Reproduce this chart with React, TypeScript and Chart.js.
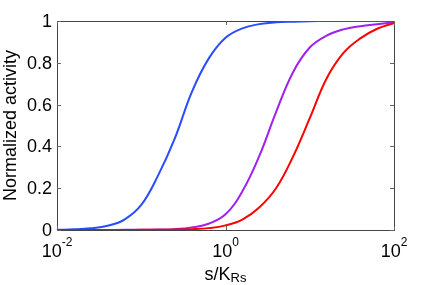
import React, { useEffect, useRef } from "react";
import { Chart, registerables } from "chart.js";

Chart.register(...registerables);

const xValues = [0.01, 0.0158, 0.0251, 0.0398, 0.0631, 0.1, 0.158, 0.251, 0.398, 0.631, 1, 1.585, 2.512, 3.981, 6.31, 10, 15.85, 25.12, 39.81, 63.1, 100];

const blueValues = [0.001, 0.003, 0.008, 0.02, 0.05, 0.12, 0.26, 0.44, 0.66, 0.82, 0.92, 0.965, 0.985, 0.994, 0.997, 0.999, 1, 1, 1, 1, 1];
const purpleValues = [0, 0, 0, 0.0003, 0.0006, 0.001, 0.002, 0.004, 0.012, 0.03, 0.075, 0.185, 0.353, 0.564, 0.754, 0.873, 0.93, 0.96, 0.975, 0.985, 0.994];
const redValues = [0, 0, 0, 0, 0.0003, 0.0006, 0.001, 0.002, 0.004, 0.009, 0.022, 0.05, 0.108, 0.2, 0.35, 0.535, 0.725, 0.847, 0.917, 0.963, 0.99];

const xTickValues = [0.01, 1, 100];
const xTickExponents = ["-2", "0", "2"];
const yTickValues = [0, 0.2, 0.4, 0.6, 0.8, 1];
const yTickLabels = ["0", "0.2", "0.4", "0.6", "0.8", "1"];

const FONT = '"Liberation Sans", Arial, Helvetica, sans-serif';

const toPoints = (ys: number[]) => xValues.map((x, i) => ({ x, y: ys[i] }));

const framePlugin = {
  id: "frame",
  beforeDatasetsDraw(chart: any) {
    const { ctx, chartArea } = chart;
    const { left, right, top, bottom } = chartArea;
    const xs = chart.scales.x;
    const ys = chart.scales.y;
    ctx.save();
    ctx.strokeStyle = "#444";
    ctx.lineWidth = 1;
    ctx.strokeRect(Math.round(left) + 0.5, Math.round(top) + 0.5, Math.round(right - left), Math.round(bottom - top));
    ctx.strokeStyle = "#666";
    ctx.beginPath();
    const tl = 4;
    xTickValues.forEach((v) => {
      const px = Math.round(xs.getPixelForValue(v)) + 0.5;
      ctx.moveTo(px, bottom);
      ctx.lineTo(px, bottom - tl);
      ctx.moveTo(px, top);
      ctx.lineTo(px, top + tl);
    });
    yTickValues.forEach((v) => {
      const py = Math.round(ys.getPixelForValue(v)) + 0.5;
      ctx.moveTo(left, py);
      ctx.lineTo(left + tl, py);
      ctx.moveTo(right, py);
      ctx.lineTo(right - tl, py);
    });
    ctx.stroke();
    ctx.restore();
  },
  afterDraw(chart: any) {
    const { ctx, chartArea } = chart;
    const { left, top, bottom, right } = chartArea;
    const xs = chart.scales.x;
    const ys = chart.scales.y;
    ctx.save();
    ctx.fillStyle = "#000";
    ctx.font = `18px ${FONT}`;
    ctx.textAlign = "right";
    ctx.textBaseline = "middle";
    yTickValues.forEach((v, i) => {
      ctx.fillText(yTickLabels[i], left - 5, ys.getPixelForValue(v) + 1);
    });
    ctx.textAlign = "left";
    ctx.textBaseline = "alphabetic";
    xTickValues.forEach((v, i) => {
      const px = xs.getPixelForValue(v);
      ctx.font = `18px ${FONT}`;
      const wBase = ctx.measureText("10").width;
      ctx.font = `12px ${FONT}`;
      const wExp = ctx.measureText(xTickExponents[i]).width;
      const start = px - (wBase + wExp) / 2;
      ctx.font = `18px ${FONT}`;
      ctx.fillText("10", start, 257);
      ctx.font = `12px ${FONT}`;
      ctx.fillText(xTickExponents[i], start + wBase, 246);
    });
    ctx.font = `18px ${FONT}`;
    const wMain = ctx.measureText("s/K").width;
    ctx.font = `13px ${FONT}`;
    const wSub = ctx.measureText("Rs").width;
    const cx = (left + right) / 2;
    const sx = cx - (wMain + wSub) / 2;
    ctx.font = `18px ${FONT}`;
    ctx.fillText("s/K", sx, 280);
    ctx.font = `13px ${FONT}`;
    ctx.fillText("Rs", sx + wMain, 282);
    ctx.translate(11, (top + bottom) / 2);
    ctx.rotate(-Math.PI / 2);
    ctx.font = `18px ${FONT}`;
    ctx.textAlign = "center";
    ctx.textBaseline = "middle";
    ctx.fillText("Normalized activity", 0, 0);
    ctx.restore();
  },
};

export default function App() {
  const ref = useRef<HTMLCanvasElement>(null);
  useEffect(() => {
    if (!ref.current) return;
    const chart = new Chart(ref.current, {
      type: "line",
      data: {
        datasets: [
          { label: "red", data: toPoints(redValues), borderColor: "#ff0000", order: 0 },
          { label: "purple", data: toPoints(purpleValues), borderColor: "#a020f0", order: 1 },
          { label: "blue", data: toPoints(blueValues), borderColor: "#2a4cff", order: 2 },
        ],
      },
      options: {
        responsive: false,
        animation: false,
        devicePixelRatio: 1,
        layout: { padding: { left: 57, top: 21, right: 42, bottom: 55 } },
        elements: {
          point: { radius: 0 },
          line: { borderWidth: 2, tension: 0.4, fill: false },
        },
        plugins: { legend: { display: false }, tooltip: { enabled: false } },
        scales: {
          x: { type: "logarithmic", min: 0.01, max: 100, display: false },
          y: { type: "linear", min: 0, max: 1, display: false },
        },
      },
      plugins: [framePlugin],
    });
    return () => chart.destroy();
  }, []);
  return (
    <div style={{ position: "absolute", left: 0, top: 0, width: 436, height: 285, background: "#fff" }}>
      <canvas ref={ref} width={436} height={285} style={{ width: 436, height: 285 }} />
    </div>
  );
}
